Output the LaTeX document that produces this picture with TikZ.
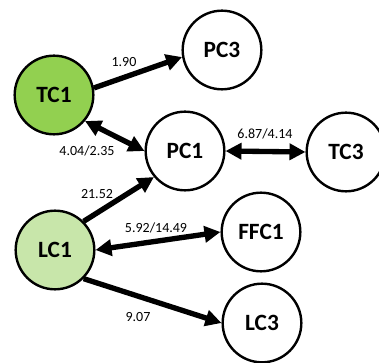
\documentclass[tikz,border=0pt]{standalone}
\usepackage{fontspec}
\setmainfont{Carlito}
\usetikzlibrary{arrows.meta}
\definecolor{tcgreen}{RGB}{146,208,80}
\definecolor{lcgreen}{RGB}{200,230,170}
\begin{document}
\begin{tikzpicture}[x=0.75pt, y=-0.75pt, line join=round, >={Triangle[length=12pt,width=12pt]},
    comp/.style={circle, draw, line width=1.8pt, minimum size=59pt, inner sep=0pt, font=\fontsize{17.5}{17.5}\selectfont\bfseries},
    link/.style={line width=4pt},
    lbl/.style={inner sep=0pt, font=\fontsize{10.5}{10.5}\selectfont}]
    \useasboundingbox (0,0) rectangle (379,363);
    \clip (0,0) rectangle (379,363);
    \node[comp, fill=tcgreen] (TC1) at (54,95) {TC1};
    \node[comp] (PC3) at (222,50) {PC3};
    \node[comp] (PC1) at (185,151) {PC1};
    \node[comp] (TC3) at (346,152) {TC3};
    \node[comp, fill=lcgreen] (LC1) at (55,250) {LC1};
    \node[comp] (FFC1) at (261,232) {FFC1};
    \node[comp] (LC3) at (262,323) {LC3};
    \draw[link,->] (TC1.10) -- (PC3.190);
    \draw[link,<->] (TC1.-40) -- (PC1.west);
    \draw[link,<->] (PC1.east) -- (TC3.west);
    \draw[link,->] (LC1.45) -- (PC1.220);
    \draw[link,<->] (LC1.east) -- (FFC1.west);
    \draw[link,->] (LC1.-45) -- (LC3.west);
    \node[lbl] (w1) at (124,62) {1.90};
    \node[lbl] (w2) at (87,151) {4.04/2.35};
    \node[lbl] (w3) at (265,134) {6.87/4.14};
    \node[lbl] (w4) at (97,194) {21.52};
    \node[lbl] (w5) at (156,228) {5.92/14.49};
    \node[lbl] (w6) at (138,317) {9.07};
\end{tikzpicture}
\end{document}
